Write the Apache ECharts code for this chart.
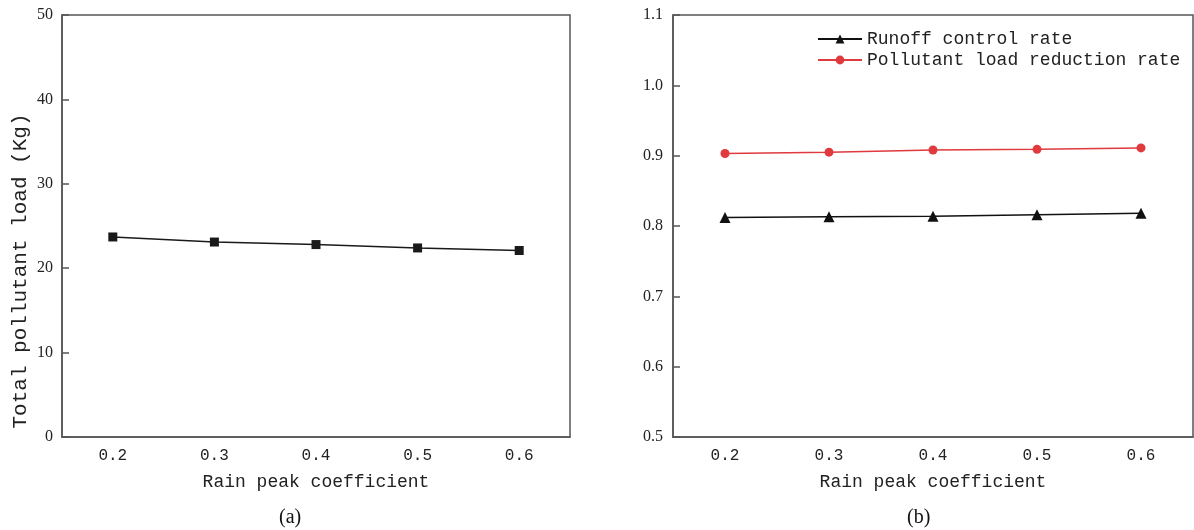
<!DOCTYPE html>
<html>
<head>
<meta charset="utf-8">
<title>Rain peak coefficient</title>
<script src="https://cdn.jsdelivr.net/npm/echarts@6.0.0/dist/echarts.min.js"></script>
<style>
  html, body { margin: 0; padding: 0; background: #fff; }
  #main { width: 1194px; height: 530px; }
</style>
</head>
<body>
<div id="main"></div>
<script>
// data
const coefficients = ["0.2", "0.3", "0.4", "0.5", "0.6"];
const totalLoad = [23.7, 23.1, 22.8, 22.4, 22.1];
const runoffRate = [0.812, 0.813, 0.814, 0.816, 0.818];
const reductionRate = [0.903, 0.905, 0.908, 0.909, 0.911];

const mono = "Liberation Mono";
const serif = "Liberation Serif";
const axisColor = "#555";
const textColor = "#222";

const chart = echarts.init(document.getElementById("main"));

function xAxisFor(gridIndex) {
  return {
    type: "category",
    gridIndex: gridIndex,
    data: coefficients,
    boundaryGap: true,
    name: "Rain peak coefficient",
    nameLocation: "middle",
    nameGap: 36,
    nameTextStyle: { fontFamily: mono, fontSize: 18, color: textColor },
    axisLine: { lineStyle: { color: axisColor, width: 1.5 } },
    axisTick: {
      inside: true,
      alignWithLabel: true,
      length: 8,
      lineStyle: { color: axisColor, width: 1.5 },
    },
    axisLabel: { fontFamily: mono, fontSize: 16, color: textColor, margin: 11 },
    splitLine: { show: false },
  };
}

const option = {
  backgroundColor: "#fff",
  animation: false,
  title: [
    { text: "(a)", left: 274, top: 503, textStyle: { fontFamily: serif, fontSize: 20, fontWeight: "normal", color: "#111" } },
    { text: "(b)", left: 902, top: 503, textStyle: { fontFamily: serif, fontSize: 20, fontWeight: "normal", color: "#111" } },
  ],
  legend: {
    orient: "vertical",
    left: 812,
    top: 25,
    itemWidth: 44,
    itemHeight: 11,
    itemGap: 3,
    textStyle: { fontFamily: mono, fontSize: 18, color: textColor },
    data: ["Runoff control rate", "Pollutant load reduction rate"],
  },
  grid: [
    { left: 62, top: 15, width: 508, height: 422, show: true, borderColor: axisColor, borderWidth: 1.5, backgroundColor: "transparent" },
    { left: 673, top: 15, width: 520, height: 422, show: true, borderColor: axisColor, borderWidth: 1.5, backgroundColor: "transparent" },
  ],
  xAxis: [xAxisFor(0), xAxisFor(1)],
  yAxis: [
    {
      type: "value",
      gridIndex: 0,
      min: 0,
      max: 50,
      interval: 10,
      name: "Total pollutant load (Kg)",
      nameLocation: "middle",
      nameGap: 31,
      nameTextStyle: { fontFamily: mono, fontSize: 21, color: textColor, padding: [0, 90, 0, 0] },
      axisLine: { show: true, lineStyle: { color: axisColor, width: 1.5 } },
      axisTick: { show: true, inside: true, length: 7, lineStyle: { color: axisColor, width: 1.5 } },
      axisLabel: { fontFamily: serif, fontSize: 16, color: textColor, margin: 9 },
      splitLine: { show: false },
    },
    {
      type: "value",
      gridIndex: 1,
      min: 0.5,
      max: 1.1,
      interval: 0.1,
      axisLine: { show: true, lineStyle: { color: axisColor, width: 1.5 } },
      axisTick: { show: true, inside: true, length: 7, lineStyle: { color: axisColor, width: 1.5 } },
      axisLabel: {
        fontFamily: serif,
        fontSize: 16,
        color: textColor,
        margin: 10,
        formatter: (v) => v.toFixed(1),
      },
      splitLine: { show: false },
    },
  ],
  series: [
    {
      name: "Total pollutant load",
      type: "line",
      xAxisIndex: 0,
      yAxisIndex: 0,
      data: totalLoad,
      symbol: "rect",
      symbolSize: 9,
      itemStyle: { color: "#1a1a1a" },
      lineStyle: { color: "#1a1a1a", width: 1.5 },
    },
    {
      name: "Runoff control rate",
      type: "line",
      xAxisIndex: 1,
      yAxisIndex: 1,
      data: runoffRate,
      symbol: "triangle",
      symbolSize: 11,
      itemStyle: { color: "#111" },
      lineStyle: { color: "#111", width: 1.5 },
    },
    {
      name: "Pollutant load reduction rate",
      type: "line",
      xAxisIndex: 1,
      yAxisIndex: 1,
      data: reductionRate,
      symbol: "circle",
      symbolSize: 9,
      itemStyle: { color: "#e0393e" },
      lineStyle: { color: "#e0393e", width: 1.5 },
    },
  ],
};

chart.setOption(option);
</script>
</body>
</html>
